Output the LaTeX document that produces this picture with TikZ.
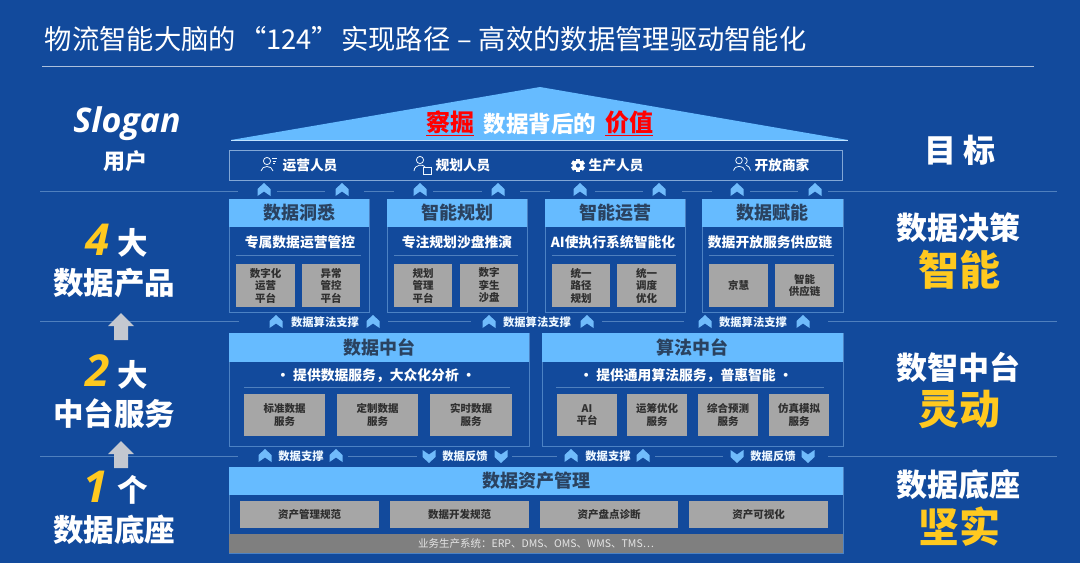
\documentclass[tikz,border=0pt]{standalone}
\usepackage{fontspec}
\setmainfont{Noto Sans CJK SC}
\newfontfamily\latf{Open Sans}
\definecolor{bg}{HTML}{124A9C}
\definecolor{hdr}{HTML}{66BBFF}
\definecolor{hdrtxt}{HTML}{2A4260}
\definecolor{boxgray}{HTML}{A6A6A6}
\definecolor{graytxt}{HTML}{2F2F2F}
\definecolor{frm}{HTML}{4C82C4}
\definecolor{rule}{HTML}{4F80BE}
\definecolor{gold}{HTML}{FFC91F}
\definecolor{chev}{HTML}{70BBFB}
\definecolor{sand}{HTML}{7F7F7F}
\definecolor{blockarrow}{HTML}{C4C8D0}
\newcommand{\fs}[2]{\fontsize{#1}{#2}\selectfont}
% name, x1, y1, x2, y2, style, text
\newcommand{\bx}[7]{\node[#6,minimum width={(#4-#2)*1pt},minimum height={(#5-#3)*1pt}] (#1) at ({(#2+#4)/2},{(#3+#5)/2}) {#7};}
\newcommand{\chup}[2]{\fill[chev,shift={(#1,#2)}] (0,-7) -- (6.5,-1) -- (6.5,6) -- (0,1.5) -- (-6.5,6) -- (-6.5,-1) -- cycle;}
\newcommand{\chdn}[2]{\fill[chev,shift={(#1,#2)}] (0,7) -- (6.5,1) -- (6.5,-6) -- (0,-1.5) -- (-6.5,-6) -- (-6.5,1) -- cycle;}
\tikzset{
 base/.style={inner sep=0pt,outer sep=0pt,align=center},
 head/.style={base,fill=hdr,text=hdrtxt,font=\bfseries\fs{18}{21}},
 frame/.style={base,draw=frm,line width=0.9pt},
 gbox/.style={base,fill=boxgray,text=graytxt,font=\bfseries\fs{10.5}{12.5}},
 sub/.style={base,text=white,font=\bfseries\fs{13.8}{16}},
 rowlab/.style={base,text=white!88!hdr,font=\bfseries\fs{11.3}{13}},
 sepl/.style={rule,line width=0.9pt},
 big/.style={base,text=white,font=\bfseries\fs{30.5}{34}},
 goal/.style={base,text=white,font=\bfseries\fs{31}{35}},
 goalb/.style={base,text=gold,font=\bfseries\fs{41}{45}},
 icon/.style={white!90!hdr,line width=0.8pt,fill=none},
}
\begin{document}
\begin{tikzpicture}[x=1pt,y=-1pt]
\useasboundingbox (0,0) rectangle (1080,563);
\fill[bg] (0,0) rectangle (1080,563);
% title
\node[base,anchor=west,text=white,font=\fs{27.3}{30}] (title) at (45,39) {物流智能大脑的\hspace{3pt}“124”\hspace{2pt}实现路径\hspace{7pt}–\hspace{7pt}高效的数据管理驱动智能化};
\draw[white!65!bg,line width=1pt] (42,66.5) -- (1034,66.5);
% roof
\fill[hdr] (231,140) -- (540,87) -- (848,140) -- cycle;
\draw[white!60!hdr,line width=0.6pt] (231,140) -- (848,140);
\node[base,text=red,font=\bfseries\fs{24}{28}] (r1) at (450,123) {\underline{察掘}};
\node[base,text=white,font=\bfseries\fs{22.5}{26}] (r2) at (540,124) {数据背后的};
\node[base,text=red,font=\bfseries\fs{24}{28}] (r3) at (629,123) {\underline{价值}};
% users
\bx{users}{229}{150}{842}{180}{base,draw=white!30!frm,line width=0.9pt}{}
\tikzset{ulab/.style={base,text=white,font=\bfseries\fs{13.7}{16}}}
\node[ulab] (u1) at (310,165.5) {运营人员};
\node[ulab] (u2) at (463,165.5) {规划人员};
\node[ulab] (u3) at (616,165.5) {生产人员};
\node[ulab] (u4) at (782,165.5) {开放商家};
% icons
\draw[icon] (267,161) circle (3.6);
\draw[icon] (261,171) .. controls (262,165) and (272,165) .. (273,171);
\draw[icon,line width=0.6pt] (272,158.5) -- (277,158.5) (272.5,161) -- (276,161) (273,163.5) -- (275,163.5);
\draw[icon] (420,160) circle (3.6);
\draw[icon] (414,171) .. controls (414.5,164) and (424,164) .. (425,167);
\draw[icon,line width=0.7pt] (423,167) rectangle (431,174);
\fill[white,even odd rule] (578,165.5) circle (5.4) (578,165.5) circle (2.2);
\foreach \a in {0,60,...,300}{\fill[white,rotate around={\a:(578,165.5)}] (576,158.6) rectangle (580,161.5);}
\draw[icon] (739,160.5) circle (3.3);
\draw[icon] (733.5,170.5) .. controls (734,165) and (744,165) .. (745,170.5);
\draw[icon] (744,157.5) .. controls (748,157.5) and (748,163) .. (745,164);
\draw[icon] (746,165) .. controls (749,166) and (750,168) .. (750.5,170.5);
% separator rows
\draw[sepl] (40,191) -- (238,191) (277,191) -- (325,191) (364,191) -- (394,191) (433,191) -- (482,191) (520,191) -- (550,191) (595,191) -- (643,191) (682,191) -- (712,191) (750,191) -- (798,191) (828,191) -- (1057,191);
\foreach \x in {264,342,420,498,580,659,737,815}{\chup{\x}{190}}
\draw[sepl] (40,321) -- (239,321) (388,321) -- (471,321) (602,321) -- (684,321) (828,321) -- (1057,321);
\foreach \x in {276,373,489,587,705,803}{\chup{\x}{322}}
\node[rowlab] (l1) at (325,322.5) {数据算法支撑};
\node[rowlab] (l2) at (537,322.5) {数据算法支撑};
\node[rowlab] (l3) at (753,322.5) {数据算法支撑};
\draw[sepl] (40,456) -- (238,456) (348,456) -- (417,456) (512,456) -- (557,456) (655,456) -- (723,456) (828,456) -- (1057,456);
\foreach \x in {265,336,571,643}{\chup{\x}{456}}
\foreach \x in {429,501,737,808}{\chdn{\x}{456}}
\node[rowlab] (s1) at (301,456) {数据支撑};
\node[rowlab] (f1) at (465,456) {数据反馈};
\node[rowlab] (s2) at (608,456) {数据支撑};
\node[rowlab] (f2) at (773,456) {数据反馈};
% product boxes
\bx{p1}{229}{199}{369}{312}{frame}{}
\bx{p2}{387}{199}{527}{312}{frame}{}
\bx{p3}{545}{199}{685}{312}{frame}{}
\bx{p4}{702}{199}{843}{312}{frame}{}
\bx{p1h}{229}{199}{369}{227}{head}{数据洞悉}
\bx{p2h}{387}{199}{527}{227}{head}{智能规划}
\bx{p3h}{545}{199}{685}{227}{head}{智能运营}
\bx{p4h}{702}{199}{843}{227}{head}{数据赋能}
\node[sub] (p1s) at (300,242.5) {专属数据运营管控};
\node[sub] (p2s) at (457,242.5) {专注规划沙盘推演};
\node[sub] (p3s) at (613,242.5) {AI使执行系统智能化};
\node[sub] (p4s) at (770,242.5) {数据开放服务供应链};
\draw[sepl] (236,255) -- (361,255) (394,255) -- (518,255) (552,255) -- (676,255) (709,255) -- (834,255);
\bx{g11}{236}{264}{295}{307}{gbox}{数字化\\运营\\平台}
\bx{g12}{302}{264}{360}{307}{gbox}{异常\\管控\\平台}
\bx{g21}{394}{264}{452}{307}{gbox}{规划\\管理\\平台}
\bx{g22}{460}{264}{518}{307}{gbox}{数字\\孪生\\沙盘}
\bx{g31}{552}{264}{610}{307}{gbox}{统一\\路径\\规划}
\bx{g32}{617}{264}{676}{307}{gbox}{统一\\调度\\优化}
\bx{g41}{709}{264}{768}{307}{gbox}{京慧}
\bx{g42}{775}{264}{834}{307}{gbox}{智能\\供应链}
% middle platforms
\bx{m1}{229}{333}{529}{446}{frame}{}
\bx{m2}{542}{333}{843}{446}{frame}{}
\bx{m1h}{229}{333}{529}{362}{head}{数据中台}
\bx{m2h}{542}{333}{843}{362}{head}{算法中台}
\node[sub] (m1s) at (376,375.5) {• 提供数据服务，大众化分析 •};
\node[sub] (m2s) at (686,375.5) {• 提供通用算法服务，普惠智能 •};
\draw[sepl] (244,387) -- (510,387) (556,387) -- (824,387);
\bx{a1}{244}{394}{325}{436}{gbox}{标准数据\\服务}
\bx{a2}{337}{394}{418}{436}{gbox}{定制数据\\服务}
\bx{a3}{430}{394}{512}{436}{gbox}{实时数据\\服务}
\bx{b1}{557}{394}{617}{436}{gbox}{AI\\平台}
\bx{b2}{627}{394}{687}{436}{gbox}{运筹优化\\服务}
\bx{b3}{698}{394}{758}{436}{gbox}{综合预测\\服务}
\bx{b4}{769}{394}{829}{436}{gbox}{仿真模拟\\服务}
% foundation
\bx{c}{229}{467}{843}{553}{frame}{}
\bx{ch}{229}{467}{843}{495}{head}{数据资产管理}
\bx{c1}{240}{501}{379}{528}{gbox}{资产管理规范}
\bx{c2}{390}{501}{529}{528}{gbox}{数据开发规范}
\bx{c3}{540}{501}{678}{528}{gbox}{资产盘点诊断}
\bx{c4}{689}{501}{828}{528}{gbox}{资产可视化}
\bx{cb}{229}{534}{843}{553}{base,fill=sand,text=white!80!sand,font=\fs{10.5}{12}}{业务生产系统：ERP、DMS、OMS、WMS、TMS…}
% left column
\node[base,text=white,font=\latf\bfseries\itshape\fs{34}{38}] (slogan) at (127,124) {Slogan};
\node[base,text=white,font=\bfseries\fs{22}{25}] (user) at (125,161) {用户};
\node[base,anchor=east,text=gold,font=\latf\bfseries\itshape\fs{44}{48}] (n4) at (110,240) {4};
\node[big,anchor=west] (n4t) at (117,243) {大};
\node[big] (t4) at (114,283) {数据产品};
\node[base,anchor=east,text=gold,font=\latf\bfseries\itshape\fs{44}{48}] (n2) at (110,371) {2};
\node[big,anchor=west] (n2t) at (117,375) {大};
\node[big] (t2) at (114,414) {中台服务};
\node[base,anchor=east,text=gold,font=\latf\bfseries\itshape\fs{44}{48}] (n1) at (108,487) {1};
\node[big,anchor=west] (n1t) at (117,490) {个};
\node[big] (t1) at (114,530) {数据底座};
\fill[blockarrow] (121,313) -- (134,326) -- (128,326) -- (128,340) -- (114,340) -- (114,326) -- (108,326) -- cycle;
\fill[blockarrow] (121,441) -- (134,454) -- (128,454) -- (128,468) -- (114,468) -- (114,454) -- (108,454) -- cycle;
% right column
\node[base,text=white,font=\bfseries\fs{32}{36}] (goal) at (960,150) {目 标};
\node[goal] (d1) at (958,228) {数据决策};
\node[goalb] (d2) at (959,270) {智能};
\node[goal] (e1) at (958,367) {数智中台};
\node[goalb] (e2) at (959,409) {灵动};
\node[goal] (f1r) at (958,485) {数据底座};
\node[goalb] (f2r) at (959,527) {坚实};
\end{tikzpicture}
\end{document}
